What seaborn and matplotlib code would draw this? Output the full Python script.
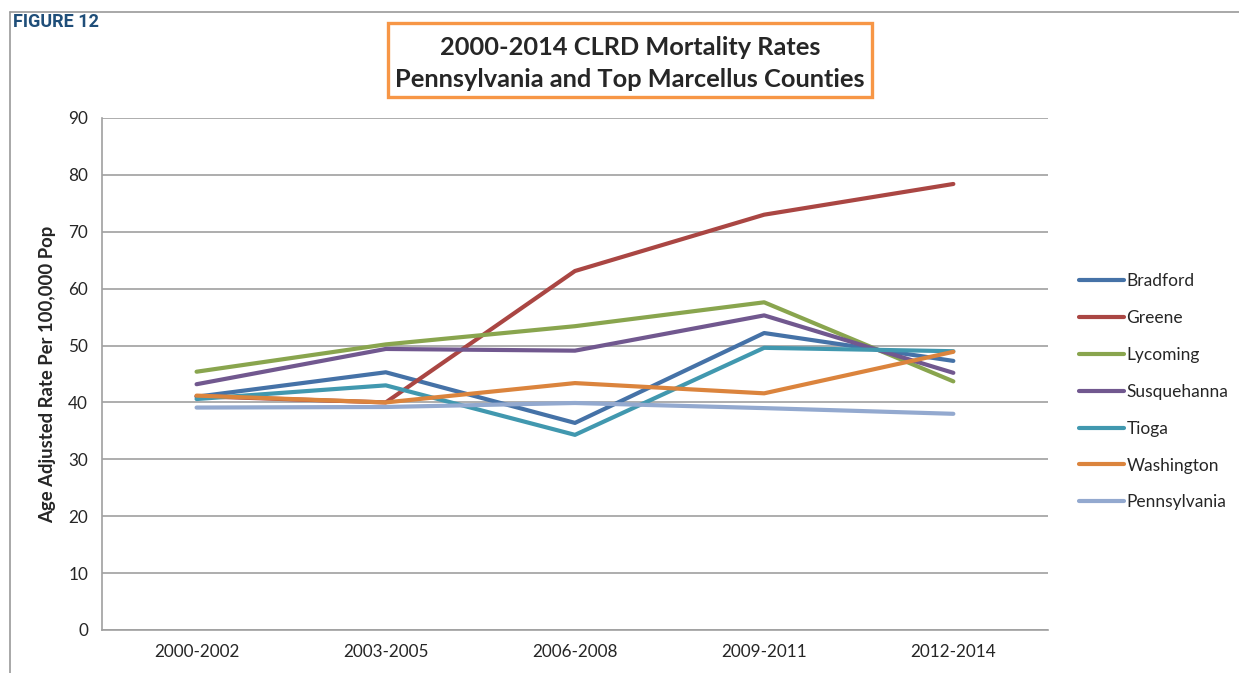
import pandas as pd
import matplotlib.pyplot as plt
import seaborn as sns
from matplotlib.patches import Rectangle
from matplotlib.lines import Line2D

# -----------------------------
# Data
# -----------------------------
periods = ['2000-2002', '2003-2005', '2006-2008', '2009-2011', '2012-2014']

bradford = [41.0, 45.3, 36.4, 52.2, 47.3]
greene = [41.1, 40.0, 63.1, 73.0, 78.4]
lycoming = [45.4, 50.2, 53.4, 57.6, 43.7]
susquehanna = [43.2, 49.4, 49.1, 55.3, 45.2]
tioga = [40.6, 43.0, 34.3, 49.6, 49.0]
washington = [41.2, 40.0, 43.4, 41.6, 48.9]
pennsylvania = [39.1, 39.2, 39.9, 39.0, 38.0]

series_names = ['Bradford', 'Greene', 'Lycoming', 'Susquehanna',
                'Tioga', 'Washington', 'Pennsylvania']
series_values = [bradford, greene, lycoming, susquehanna,
                 tioga, washington, pennsylvania]
colors = ['#4572A7', '#AA4643', '#89A54E', '#71588F',
          '#4198AF', '#DB843D', '#93A9CF']

y_ticks = [0, 10, 20, 30, 40, 50, 60, 70, 80, 90]

rows = []
for name, vals in zip(series_names, series_values):
    for p, v in zip(periods, vals):
        rows.append({'Period': p, 'Rate': v, 'County': name})
df = pd.DataFrame(rows)

# -----------------------------
# Plot
# -----------------------------
sns.set_style('white')
plt.rcParams['font.family'] = ['Lato', 'DejaVu Sans']

fig = plt.figure(figsize=(12.39, 6.73), dpi=100)
ax = fig.add_axes([0.0823, 0.0639, 0.7635, 0.7608])

sns.lineplot(data=df, x='Period', y='Rate', hue='County',
             hue_order=series_names, palette=colors,
             linewidth=3, sort=False, ax=ax, legend=False)

ax.set_xlim(-0.5, 4.5)
ax.set_ylim(0, 90)
ax.set_yticks(y_ticks)
ax.yaxis.grid(True, color='#A0A0A0', linewidth=1.2)
ax.set_axisbelow(True)
for s in ['top', 'right']:
    ax.spines[s].set_visible(False)
for s in ['left', 'bottom']:
    ax.spines[s].set_color('#A0A0A0')
    ax.spines[s].set_linewidth(1.2)
ax.tick_params(axis='both', length=0, labelsize=12.3, pad=10)
ax.set_xlabel('')
ax.set_ylabel('Age Adjusted Rate Per 100,000 Pop', fontsize=13.3,
              fontweight='bold', labelpad=9)

handles = [Line2D([0], [0], color=c, linewidth=3) for c in colors]
ax.legend(handles, series_names, loc='upper left',
          bbox_to_anchor=(1.016, 0.727), frameon=False, fontsize=12.5,
          handlelength=2.6, handletextpad=0.15, labelspacing=1.2)

# Title box
fig.add_artist(Rectangle((0.3132, 0.8559), 0.3906, 0.110,
                         transform=fig.transFigure, fill=False,
                         edgecolor='#F79646', linewidth=2.4))
fig.text(0.5085, 0.9056,
         '2000-2014 CLRD Mortality Rates\nPennsylvania and Top Marcellus Counties',
         ha='center', va='center', fontsize=18.3, fontweight='bold',
         linespacing=1.5)

# Figure label and frame
fig.text(0.0105, 0.967, 'FIGURE 12', fontsize=13, color='#1F4E79',
         fontweight='bold', family=['Roboto', 'DejaVu Sans'],
         ha='left', va='center')
fig.add_artist(Line2D([0.0081, 0.0081], [0, 0.9822],
                      transform=fig.transFigure, color='#9A9A9A', linewidth=1.2))
fig.add_artist(Line2D([0.0081, 1], [0.9822, 0.9822],
                      transform=fig.transFigure, color='#9A9A9A', linewidth=1.2))

fig.savefig('out.png', dpi=100)
plt.close()
